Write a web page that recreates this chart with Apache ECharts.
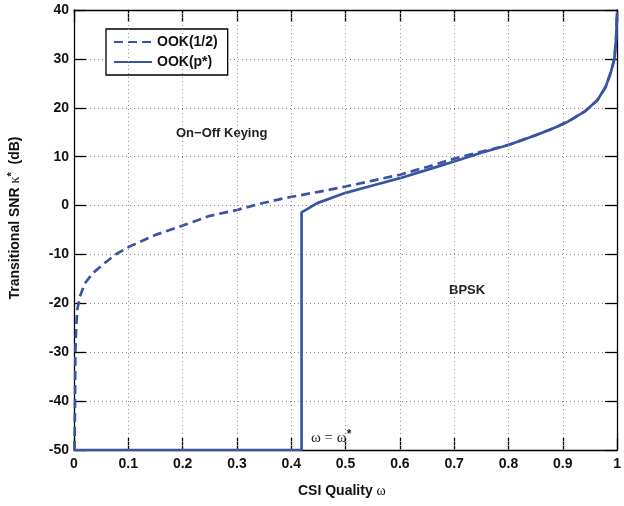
<!DOCTYPE html>
<html><head><meta charset="utf-8">
<script src="https://cdn.jsdelivr.net/npm/echarts@6/dist/echarts.min.js"></script>
<style>html,body{margin:0;padding:0;background:#fff}#c{width:624px;height:506px}</style>
</head><body><div id="c"></div>
<script>
// CSI quality omega values and transitional SNR (dB)
const ookHalfX = [0.001,0.002,0.0025,0.004,0.006,0.011,0.02,0.035,0.056,0.078,0.102,0.15,0.2,0.25,0.3,0.34,0.387,0.45,0.5,0.55,0.6,0.65,0.7,0.75,0.8,0.85,0.885,0.91,0.94,0.964,0.979,0.988,0.995,0.998,0.9992,0.9998];
const ookHalfY = [-50,-38,-30,-25,-21.3,-18.6,-15.9,-13.8,-11.8,-9.9,-8.4,-6.0,-4.1,-2.1,-0.9,0.3,1.5,2.8,3.9,5.1,6.3,7.9,9.6,11.0,12.4,14.4,15.9,17.2,19.2,21.6,24.3,27.1,30.0,33.9,37.0,39.5];
const ookPX = [0,0.419,0.419,0.448,0.5,0.55,0.6,0.65,0.7,0.75,0.8,0.85,0.885,0.91,0.94,0.964,0.979,0.988,0.995,0.998,0.9992,0.9998];
const ookPY = [-50,-50,-1.4,0.5,2.6,4.1,5.6,7.3,9.0,10.8,12.4,14.4,15.9,17.2,19.2,21.6,24.3,27.1,30.0,33.9,37.0,39.5];
const seriesNames = ['OOK(1/2)','OOK(p*)'];
const xTicks = [0.1,0.2,0.3,0.4,0.5,0.6,0.7,0.8,0.9];
const xMin = 0, xMax = 1, xStep = 0.1;
const yMin = -50, yMax = 40, yStep = 10;

const blue = '#3a54a5';
const zip = (a,b) => a.map((v,i)=>[v,b[i]]);
const chart = echarts.init(document.getElementById('c'), null, {renderer:'canvas'});
const tickFont = () => ({fontFamily:'Liberation Sans, Arial, sans-serif', fontWeight:'bold', fontSize:14, color:'#111'});
const tick = () => ({show:true, inside:true, length:12, lineStyle:{color:'#000', width:1.3}});
const aLine = () => ({show:true, onZero:false, lineStyle:{color:'#000', width:1.3}});
const xBase = (pos) => ({type:'value', position:pos, min:xMin, max:xMax, interval:xStep});
const yBase = (pos) => ({type:'value', position:pos, min:yMin, max:yMax, interval:yStep});
chart.setOption({
  animation:false,
  grid:{left:74, top:10, width:549, height:440},
  xAxis:[
    Object.assign(xBase('bottom'), {axisLine:aLine(), axisTick:tick(),
      axisLabel:Object.assign({margin:7, formatter:v=>String(+v.toFixed(1))}, tickFont()), splitLine:{show:false}}),
    Object.assign(xBase('top'), {axisLine:aLine(), axisTick:tick(), axisLabel:{show:false}, splitLine:{show:false}})
  ],
  yAxis:[
    Object.assign(yBase('left'), {axisLine:aLine(), axisTick:tick(),
      axisLabel:Object.assign({margin:5}, tickFont()), splitLine:{show:false}}),
    Object.assign(yBase('right'), {axisLine:aLine(), axisTick:tick(), axisLabel:{show:false}, splitLine:{show:false}}),
    Object.assign(yBase('left'), {axisLine:{show:false}, axisTick:{show:false}, axisLabel:{show:false},
      splitLine:{show:true, lineStyle:{color:'#8a8a8a', type:[1,3], width:1}}})
  ],
  legend:{
    left:106, top:29, orient:'vertical', itemWidth:38, itemHeight:14, itemGap:6,
    padding:[6,10,6,7], borderColor:'#000', borderWidth:1.3, backgroundColor:'#fff',
    itemStyle:{opacity:0},
    textStyle:{fontFamily:'Liberation Sans, Arial, sans-serif', fontWeight:'bold', fontSize:14, color:'#111'},
    data:seriesNames
  },
  series:[
    {name:seriesNames[0], type:'line', data:zip(ookHalfX, ookHalfY), showSymbol:false, symbol:'none',
     lineStyle:{color:blue, width:2.7, type:[9,5]}, itemStyle:{color:blue}, z:3,
     markLine:{silent:true, symbol:['none','none'], label:{show:false}, animation:false,
       lineStyle:{color:'#8a8a8a', type:[1,3], width:1}, emphasis:{disabled:true},
       data:xTicks.map(v=>({xAxis:v}))}},
    {name:seriesNames[1], type:'line', data:zip(ookPX, ookPY), showSymbol:false, symbol:'none',
     lineStyle:{color:blue, width:2.7, type:'solid'}, itemStyle:{color:blue}, z:4}
  ],
  graphic:[
    {type:'text', left:176, top:127, style:{text:'On\u2212Off Keying', font:'bold 13px "Liberation Sans", Arial, sans-serif', fill:'#222'}},
    {type:'text', left:449, top:284, style:{text:'BPSK', font:'bold 13px "Liberation Sans", Arial, sans-serif', fill:'#222'}},
    {type:'text', left:311, top:429, style:{text:'{a|\u03c9 = \u03c9}{s|*}', rich:{a:{font:'15px "Liberation Serif", "DejaVu Serif", serif', fill:'#222'}, s:{font:'bold 12px "Liberation Sans", Arial', fill:'#222', verticalAlign:'top', padding:[0,0,6,0]}}}},
    {type:'text', left:298, top:484, style:{text:'{b|CSI Quality }{a|\u03c9}', rich:{b:{font:'bold 14px "Liberation Sans", Arial, sans-serif', fill:'#111'}, a:{font:'14px "Liberation Serif", serif', fill:'#111'}}}},
    {type:'text', x:15, y:218, rotation:Math.PI/2, style:{text:'{b|Transitional SNR }{a|\u03ba}{s|*}{b|  (dB)}', align:'center', verticalAlign:'middle', rich:{b:{font:'bold 14px "Liberation Sans", Arial, sans-serif', fill:'#111'}, a:{font:'14px "Liberation Serif", serif', fill:'#111'}, s:{font:'bold 11px "Liberation Sans", Arial', fill:'#111', padding:[0,0,6,0]}}}}
  ]
});
</script></body></html>
